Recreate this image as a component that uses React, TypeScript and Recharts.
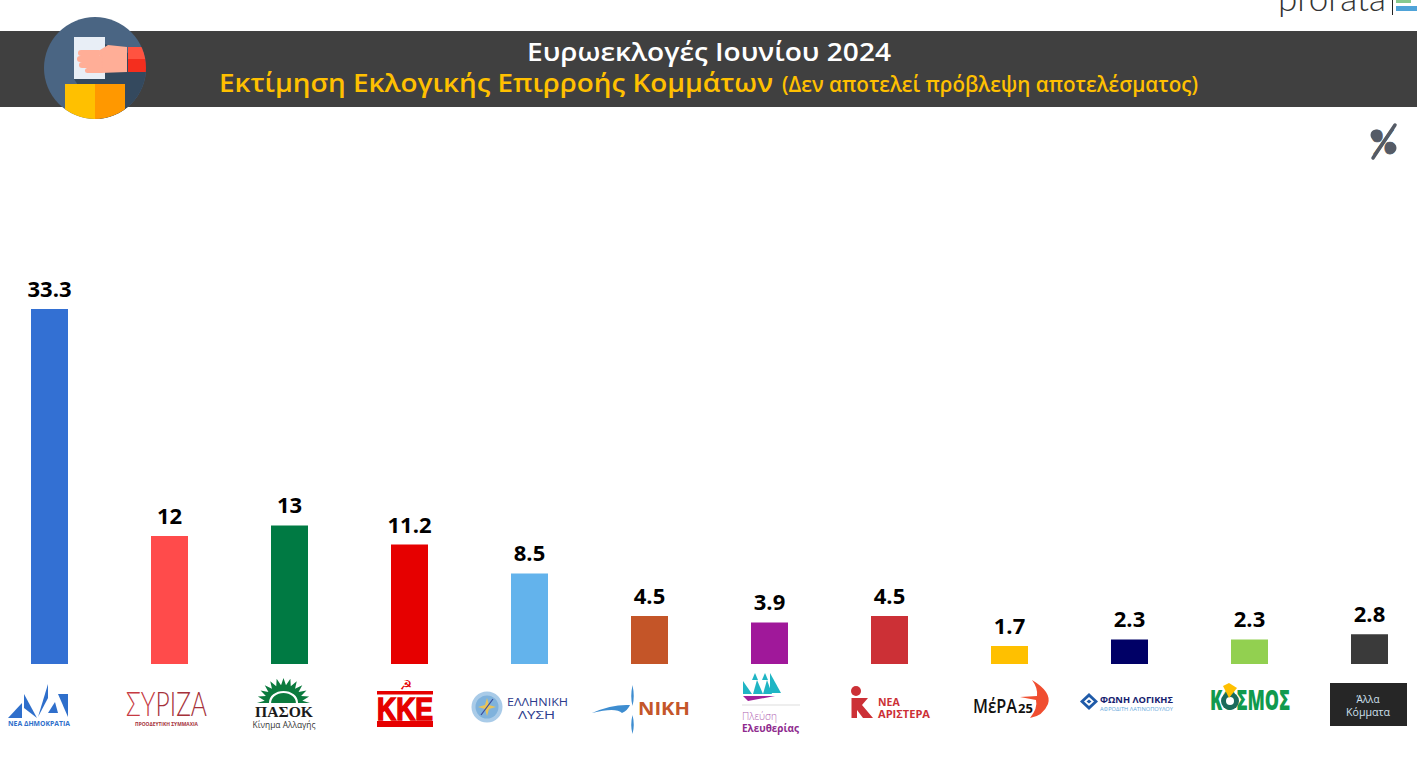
import React from 'react';
import { BarChart, Bar, XAxis, YAxis, Cell, LabelList } from 'recharts';

const PARTIES = ['ND', 'SYRIZA', 'PASOK', 'KKE', 'ELLINIKI', 'NIKI', 'PLEFSI', 'NEA_AR', 'MERA25', 'FONI', 'KOSMOS', 'ALLA'];
const SHARES = [33.3, 12, 13, 11.2, 8.5, 4.5, 3.9, 4.5, 1.7, 2.3, 2.3, 2.8];
const BAR_COLORS = ['#3370D3', '#FF4B4B', '#007A43', '#E60000', '#63B3EC', '#C45528', '#A0189A', '#CC3036', '#FFC000', '#000066', '#92D050', '#3A3A3A'];

const chartData = PARTIES.map((party, i) => ({ party, share: SHARES[i] }));

const SANS = '"Open Sans", "Noto Sans", sans-serif';

// logos are drawn in page coordinates, each group moves its own centre to 0
function LogoND() {
  return (
    <g transform="translate(-49,0)" fill="#2F6FCB">
      <polygon points="8,718 22,703 22,718" />
      <polygon points="24,694 24,708 37,718" />
      <polygon points="38,717 48,684 48,698" />
      <polygon points="48,713 55,702 58,713" />
      <polygon points="58,694 68,694 68,717" />
      <text x={39} y={726} textAnchor="middle" fontFamily={SANS} fontWeight={700} fontSize={7.5} textLength={62} lengthAdjust="spacingAndGlyphs">ΝΕΑ ΔΗΜΟΚΡΑΤΙΑ</text>
    </g>
  );
}

function LogoSyriza() {
  return (
    <g transform="translate(-169,0)" fill="#A5313A">
      <text x={126} y={716} fontFamily='"Lato", sans-serif' fontWeight={300} fontSize={33} textLength={81} lengthAdjust="spacingAndGlyphs">
        <tspan fill="#C63A42">ΣΥ</tspan>ΡΙΖΑ
      </text>
      <text x={135} y={726} fontFamily={SANS} fontWeight={700} fontSize={5} textLength={63} lengthAdjust="spacingAndGlyphs">ΠΡΟΟΔΕΥΤΙΚΗ ΣΥΜΜΑΧΙΑ</text>
    </g>
  );
}

function LogoPasok() {
  const rays: string[] = [];
  for (let i = 0; i <= 12; i++) {
    const a = (Math.PI * i) / 12;
    rays.push(`${283.5 - 26.5 * Math.cos(a)},${703 - 25 * Math.sin(a)}`);
    if (i < 12) {
      const b = (Math.PI * (i + 0.5)) / 12;
      rays.push(`${283.5 - 19 * Math.cos(b)},${703 - 18 * Math.sin(b)}`);
    }
  }
  return (
    <g transform="translate(-289,0)">
      <polygon fill="#0B7A3E" points={rays.join(' ')} />
      <path d="M270,703 A13.5,11 0 0 1 297,703" fill="none" stroke="#fff" strokeWidth={2.2} />
      <text x={284} y={717} textAnchor="middle" fontFamily='"Liberation Serif", serif' fontWeight={700} fontSize={15} textLength={58} lengthAdjust="spacingAndGlyphs" fill="#1a1a1a">ΠΑΣΟΚ</text>
      <text x={284} y={728} textAnchor="middle" fontFamily={SANS} fontSize={8.5} textLength={63} lengthAdjust="spacingAndGlyphs" fill="#333">Κίνημα Αλλαγής</text>
    </g>
  );
}

function LogoKKE() {
  return (
    <g transform="translate(-409,0)" fill="#E60000">
      <rect x={377} y={691} width={56} height={3.5} />
      <rect x={377} y={721} width={56} height={6} />
      <text x={405} y={720} textAnchor="middle" fontFamily='"Liberation Sans", sans-serif' fontWeight={700} fontSize={32} textLength={56} lengthAdjust="spacingAndGlyphs" stroke="#E60000" strokeWidth={1.5}>ΚΚΕ</text>
      <text x={406} y={690} textAnchor="middle" fontFamily='"DejaVu Sans", sans-serif' fontSize={14}>☭</text>
    </g>
  );
}

function LogoElliniki() {
  return (
    <g transform="translate(-529,0)">
      <circle cx={487} cy={707} r={15.5} fill="#A9CBE8" />
      <circle cx={487} cy={707} r={11.5} fill="#7FB2DC" />
      <polygon points="487,698 489,705 496,707 489,709 487,716 485,709 478,707 485,705" fill="#E8C45A" />
      <line x1={481} y1={715} x2={493} y2={699} stroke="#3A4A9A" strokeWidth={1.2} />
      <g fill="#2B3A8C" fontFamily={SANS} fontSize={10.5}>
        <text x={507} y={706} textLength={61} lengthAdjust="spacingAndGlyphs">ΕΛΛΗΝΙΚΗ</text>
        <text x={518} y={719} textLength={37} lengthAdjust="spacingAndGlyphs">ΛΥΣΗ</text>
      </g>
    </g>
  );
}

function LogoNiki() {
  return (
    <g transform="translate(-649,0)">
      <path d="M632.5,685 Q635,697 632.5,706 Q630,697 632.5,685 Z M632.5,715 Q635,725 632.5,734 Q630,725 632.5,715 Z" fill="#3E8DD0" />
      <path d="M592,713 Q612,704 630,705 Q628,710 622,713 Q616,707 592,713 Z" fill="#3E8DD0" />
      <text x={638} y={715} fontFamily={SANS} fontWeight={700} fontSize={18} fill="#C4562A" textLength={52} lengthAdjust="spacingAndGlyphs">ΝΙΚΗ</text>
    </g>
  );
}

function LogoPlefsi() {
  return (
    <g transform="translate(-769,0)">
      <g fill="#1FB5C4">
        <polygon points="743,694 743,681 752,694" />
        <polygon points="753,694 757,680 763,694" />
        <polygon points="763,694 767,680 772,694" />
        <polygon points="770,693 770,673 781,693" />
        <polygon points="752,680 755,673 758,680" />
        <polygon points="762,680 765,673 768,680" />
      </g>
      <polygon points="743,696 775,696 748,701" fill="#A0209A" />
      <line x1={742} y1={705} x2={800} y2={705} stroke="#DDD" strokeWidth={1} />
      <text x={742} y={719.5} fontFamily={SANS} fontWeight={300} fontSize={10.5} fill="#B060B0" textLength={35} lengthAdjust="spacingAndGlyphs">Πλεύση</text>
      <text x={742} y={732} fontFamily={SANS} fontWeight={700} fontSize={10.5} fill="#8E2A8E" textLength={57} lengthAdjust="spacingAndGlyphs">Ελευθερίας</text>
    </g>
  );
}

function LogoNeaAristera() {
  return (
    <g transform="translate(-889,0)" fill="#CC3036">
      <circle cx={856} cy={691} r={5} />
      <polygon points="851.5,698 868,698 862,705 873,718 863,718 857,710 857,718 851.5,718" />
      <g fontFamily={SANS} fontWeight={700} fontSize={10.5}>
        <text x={878} y={706}>ΝΕΑ</text>
        <text x={878} y={718} textLength={52} lengthAdjust="spacingAndGlyphs">ΑΡΙΣΤΕΡΑ</text>
      </g>
    </g>
  );
}

function LogoMera() {
  return (
    <g transform="translate(-1009,0)">
      <path d="M1032,680 Q1052,692 1048,704 Q1043,716 1030,718 Q1038,708 1036,700 L1020,697 L1037,696 Q1038,688 1032,680 Z" fill="#F04E30" />
      <text x={973} y={713} fontFamily={SANS} fontWeight={600} fontSize={19} fill="#111" textLength={44} lengthAdjust="spacingAndGlyphs">ΜέΡΑ</text>
      <text x={1018} y={713} fontFamily={SANS} fontWeight={700} fontSize={13} fill="#111">25</text>
    </g>
  );
}

function LogoFoni() {
  return (
    <g transform="translate(-1129,0)">
      <polygon points="1089,693 1098,701.5 1089,710 1080,701.5" fill="#1F5AA8" />
      <polygon points="1089,697 1094,701.5 1089,706 1084,701.5" fill="#fff" />
      <polygon points="1089,699.5 1091.5,701.5 1089,703.5 1086.5,701.5" fill="#1F5AA8" />
      <text x={1100} y={702.5} fontFamily={SANS} fontWeight={700} fontSize={9.5} fill="#14206E" textLength={73} lengthAdjust="spacingAndGlyphs">ΦΩΝΗ ΛΟΓΙΚΗΣ</text>
      <text x={1100} y={711} fontFamily={SANS} fontSize={5.5} fill="#5FA8DC" textLength={73} lengthAdjust="spacingAndGlyphs">ΑΦΡΟΔΙΤΗ ΛΑΤΙΝΟΠΟΥΛΟΥ</text>
    </g>
  );
}

function LogoKosmos() {
  return (
    <g transform="translate(-1249,0)">
      <text x={1210} y={710} fontFamily={SANS} fontWeight={800} fontSize={28} fill="#109A4E" textLength={80} lengthAdjust="spacingAndGlyphs">ΚΟΣΜΟΣ</text>
      <circle cx={1230} cy={701} r={9} fill="#1A6B5B" />
      <circle cx={1230} cy={701} r={4} fill="#fff" />
      <polygon points="1223,686 1229,683 1237,688 1229,698" fill="#FFC000" />
    </g>
  );
}

function LogoAlla() {
  return (
    <g transform="translate(-1369,0)">
      <rect x={1330} y={683} width={77} height={43} fill="#262626" />
      <g fill="#CFE0EE" fontFamily={SANS} fontSize={10} textAnchor="middle">
        <text x={1368} y={703}>Άλλα</text>
        <text x={1368} y={716} textLength={44} lengthAdjust="spacingAndGlyphs">Κόμματα</text>
      </g>
    </g>
  );
}

const LOGOS: Record<string, () => React.ReactElement> = {
  ND: LogoND,
  SYRIZA: LogoSyriza,
  PASOK: LogoPasok,
  KKE: LogoKKE,
  ELLINIKI: LogoElliniki,
  NIKI: LogoNiki,
  PLEFSI: LogoPlefsi,
  NEA_AR: LogoNeaAristera,
  MERA25: LogoMera,
  FONI: LogoFoni,
  KOSMOS: LogoKosmos,
  ALLA: LogoAlla,
};

function LogoTick({ x, payload }: any) {
  const Logo = LOGOS[payload.value];
  return (
    <g transform={`translate(${x},0)`}>
      <Logo />
    </g>
  );
}

function Header() {
  return (
    <svg width={1417} height={773} style={{ position: 'absolute', left: 0, top: 0 }}>
      <defs>
        <clipPath id="badge">
          <circle cx={95} cy={68} r={51} />
        </clipPath>
      </defs>
      <text x={1278} y={11} fontFamily='"Lato", sans-serif' fontWeight={300} fontSize={35} fill="#333" textLength={108} lengthAdjust="spacingAndGlyphs">prorata</text>
      <rect x={1392} y={0} width={1} height={15} fill="#222" />
      <rect x={1396} y={0} width={15} height={3} fill="#86C98F" />
      <rect x={1396} y={6} width={21} height={5} fill="#4FA3D8" />

      <rect x={0} y={31} width={1417} height={76} fill="#404040" />

      <g clipPath="url(#badge)">
        <rect x={44} y={17} width={102} height={102} fill="#4A6583" />
        <polygon points="105,44 146,60 146,119 100,119 74,79" fill="#34495E" />
        <rect x={74} y={37} width={31} height={42} fill="#E8EEF6" />
        <polygon points="100,50 108,45 127,47 127,72 100,73" fill="#FFAE97" />
        <rect x={78} y={50} width={24} height={6} rx={3} fill="#FFAE97" />
        <rect x={77} y={56} width={26} height={6} rx={3} fill="#FFAE97" />
        <rect x={79} y={62} width={24} height={6} rx={3} fill="#FFAE97" />
        <rect x={85} y={68} width={18} height={5} rx={2.5} fill="#FFAE97" />
        <rect x={128} y={47} width={18} height={12} fill="#FF5340" />
        <rect x={128} y={59} width={18} height={13} fill="#F42E1E" />
        <rect x={65} y={84} width={30} height={35} fill="#FFC000" />
        <rect x={95} y={84} width={30} height={35} fill="#FF9800" />
      </g>

      <text x={709} y={61} textAnchor="middle" fontFamily={SANS} fontWeight={600} fontSize={25} fill="#fff" textLength={364} lengthAdjust="spacingAndGlyphs">Ευρωεκλογές Ιουνίου 2024</text>
      <g fill="#FFC000" fontFamily={SANS} fontWeight={600}>
        <text x={219} y={92} fontSize={26} textLength={554} lengthAdjust="spacingAndGlyphs">Εκτίμηση Εκλογικής Επιρροής Κομμάτων</text>
        <text x={782} y={92} fontSize={21} textLength={416} lengthAdjust="spacingAndGlyphs">(Δεν αποτελεί πρόβλεψη αποτελέσματος)</text>
      </g>

      <g fill="#555B66">
        <text x={1383.5} y={154} textAnchor="middle" fontFamily='"Lato", sans-serif' fontSize={32} stroke="#555B66" strokeWidth={0.8}>%</text>
        <circle cx={1376} cy={135} r={5.5} />
        <circle cx={1391} cy={148} r={5.5} />
        <line x1={1373} y1={158} x2={1395} y2={125} stroke="#555B66" strokeWidth={3.5} strokeLinecap="round" />
      </g>
    </svg>
  );
}

export default function App() {
  return (
    <div style={{ position: 'absolute', left: 0, top: 0, width: 1417, height: 773, overflow: 'hidden', background: '#fff' }}>
      <Header />
      <div style={{ position: 'absolute', left: -11, top: 0 }}>
        <BarChart
          width={1440}
          height={773}
          data={chartData}
          margin={{ top: 131, right: 0, bottom: 0, left: 0 }}
        >
          <XAxis
            dataKey="party"
            height={109}
            axisLine={false}
            tickLine={false}
            interval={0}
            tick={(props: any) => <LogoTick {...props} />}
          />
          <YAxis hide domain={[0, 50]} />
          <Bar dataKey="share" barSize={37} isAnimationActive={false}>
            {chartData.map((entry, index) => (
              <Cell key={`cell-${index}`} fill={BAR_COLORS[index]} />
            ))}
            <LabelList
              dataKey="share"
              position="top"
              offset={12}
              fill="#000"
              fontFamily={SANS}
              fontWeight={700}
              fontSize={22}
            />
          </Bar>
        </BarChart>
      </div>
    </div>
  );
}
